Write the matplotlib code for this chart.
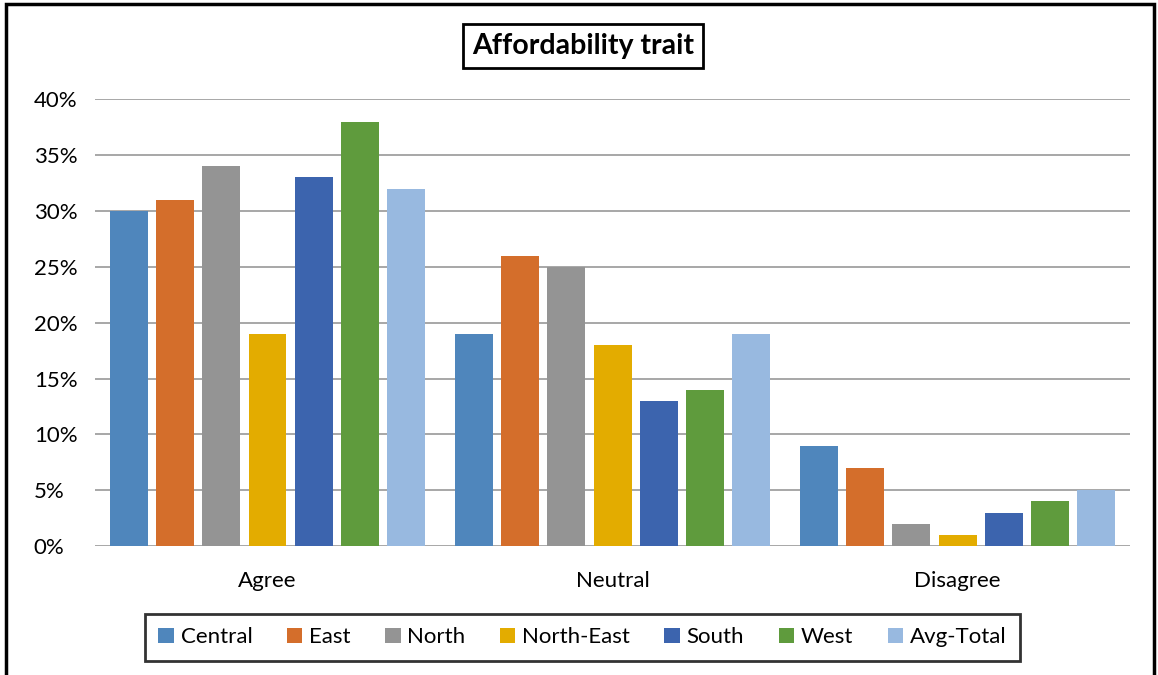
import matplotlib.pyplot as plt
import numpy as np
from matplotlib.patches import Rectangle
from matplotlib.ticker import PercentFormatter

plt.rcParams['font.family'] = ['Lato', 'DejaVu Sans']

categories = ['Agree', 'Neutral', 'Disagree']
regions = ['Central', 'East', 'North', 'North-East', 'South', 'West', 'Avg-Total']
central = [0.30, 0.19, 0.09]
east = [0.31, 0.26, 0.07]
north = [0.34, 0.25, 0.02]
north_east = [0.19, 0.18, 0.01]
south = [0.33, 0.13, 0.03]
west = [0.38, 0.14, 0.04]
avg_total = [0.32, 0.19, 0.05]

series = [central, east, north, north_east, south, west, avg_total]
colors = ['#4F86BC', '#D46E2B', '#949494', '#E3AC00', '#3C64AE', '#5F9B3D', '#98B9E0']

fig = plt.figure(figsize=(11.58, 6.75), dpi=100)
ax = fig.add_axes([0.082, 0.191, 0.894, 0.662])

x = np.arange(len(categories))
step = 0.134
width = 0.11
for j, (name, vals, c) in enumerate(zip(regions, series, colors)):
    ax.bar(x + (j - 3) * step, vals, width, color=c, label=name, zorder=3)

ax.set_xlim(-0.5, 2.5)
ax.set_ylim(0, 0.40)
ax.set_yticks(np.arange(0, 0.41, 0.05))
ax.yaxis.set_major_formatter(PercentFormatter(1.0, decimals=0))
ax.set_xticks(x)
ax.set_xticklabels(categories)
ax.tick_params(axis='both', length=0, labelsize=16, colors='black')
ax.tick_params(axis='x', pad=18)
ax.tick_params(axis='y', pad=44)
for lbl in ax.get_yticklabels():
    lbl.set_horizontalalignment('left')
ax.grid(axis='y', color='#A0A0A0', linewidth=1.3, zorder=0)
for s in ax.spines.values():
    s.set_visible(False)

fig.text(0.5035, 0.932, 'Affordability trait', ha='center', va='center',
         fontsize=20.5, fontweight='bold',
         bbox=dict(boxstyle='square,pad=0.33', facecolor='white', edgecolor='black', linewidth=2))

leg = fig.legend(loc='center', bbox_to_anchor=(0.503, 0.056), ncol=7, fontsize=16,
                 frameon=True, fancybox=False, edgecolor='black', handlelength=0.7,
                 handleheight=0.7, handletextpad=0.3, columnspacing=1.55,
                 borderpad=0.6, borderaxespad=0)
leg.get_frame().set_linewidth(2)

fig.patches.append(Rectangle((6 / 1158, -0.05), 1148 / 1158, 1 - 4 / 675 + 0.05,
                             transform=fig.transFigure, fill=False,
                             edgecolor='black', linewidth=2.5))

fig.savefig('out.png', dpi=100)
